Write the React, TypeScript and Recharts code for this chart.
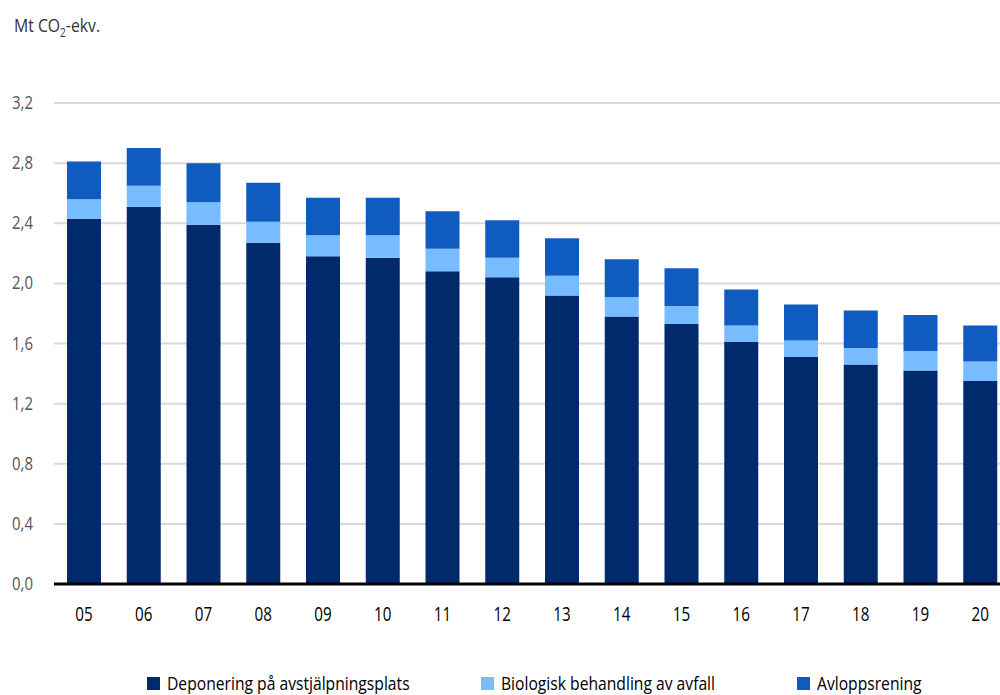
import React from "react";
import { BarChart, Bar, XAxis, YAxis, CartesianGrid, Legend } from "recharts";

const years = ["05", "06", "07", "08", "09", "10", "11", "12", "13", "14", "15", "16", "17", "18", "19", "20"];
const deponering = [2.43, 2.51, 2.39, 2.27, 2.18, 2.17, 2.08, 2.04, 1.92, 1.78, 1.73, 1.61, 1.51, 1.46, 1.42, 1.35];
const biologisk = [0.13, 0.14, 0.15, 0.14, 0.14, 0.15, 0.15, 0.13, 0.13, 0.13, 0.12, 0.11, 0.11, 0.11, 0.13, 0.13];
const avlopp = [0.25, 0.25, 0.26, 0.26, 0.25, 0.25, 0.25, 0.25, 0.25, 0.25, 0.25, 0.24, 0.24, 0.25, 0.24, 0.24];
const yTicks = [0, 0.4, 0.8, 1.2, 1.6, 2.0, 2.4, 2.8, 3.2];

const series = [
  { key: "dep", label: "Deponering på avstjälpningsplats", color: "#002a6c", left: 147 },
  { key: "bio", label: "Biologisk behandling av avfall", color: "#77bcff", left: 481 },
  { key: "avl", label: "Avloppsrening", color: "#105bbf", left: 797 },
];

const data = years.map((y, i) => ({
  year: y,
  dep: deponering[i],
  bio: biologisk[i],
  avl: avlopp[i],
}));

// no condensed font installed, so squeeze Open Sans horizontally
const FONT = "'Open Sans', sans-serif";
const SQUEEZE = 0.83;

if (typeof document !== "undefined") {
  document.body.style.margin = "0";
  document.body.style.overflow = "hidden";
}

const YTick = ({ y, payload }: any) => (
  <g transform={`translate(33,${y}) scale(${SQUEEZE},1)`}>
    <text x={0} y={0} dy={6} textAnchor="end" fill="#555" fontSize={18} fontFamily={FONT}>
      {payload.value.toFixed(1).replace(".", ",")}
    </text>
  </g>
);

const XTick = ({ x, y, payload }: any) => (
  <g transform={`translate(${x},${y}) scale(0.78,1)`}>
    <text x={0} y={0} dy={17} textAnchor="middle" fill="#000" fontSize={19.5} fontFamily={FONT}>
      {payload.value}
    </text>
  </g>
);

const LegendContent = () => (
  <div style={{ position: "relative", height: 24, fontFamily: FONT, fontSize: 18, color: "#000" }}>
    {series.map((s) => (
      <div
        key={s.key}
        style={{ position: "absolute", left: s.left, top: 0, height: 24, display: "flex", alignItems: "center" }}
      >
        <div style={{ width: 13, height: 13, background: s.color, marginRight: 7 }} />
        <span
          style={{
            display: "inline-block",
            whiteSpace: "nowrap",
            transform: "scaleX(0.87)",
            transformOrigin: "left center",
          }}
        >
          {s.label}
        </span>
      </div>
    ))}
  </div>
);

export default function App() {
  return (
    <div style={{ position: "relative", width: 1000, height: 695, overflow: "hidden", background: "#fff" }}>
      <div
        style={{
          position: "absolute",
          left: 14,
          top: 12,
          fontFamily: FONT,
          fontSize: 19,
          color: "#333",
          zIndex: 2,
          whiteSpace: "nowrap",
          transform: `scaleX(${SQUEEZE})`,
          transformOrigin: "left center",
        }}
      >
        Mt CO<sub style={{ fontSize: 12 }}>2</sub>-ekv.
      </div>
      <BarChart
        width={1010}
        height={695}
        data={data}
        margin={{ top: 103, right: 0, left: 0, bottom: 0 }}
        barSize={34}
      >
        <CartesianGrid vertical={false} stroke="#d9d9d9" strokeWidth={2} />
        <XAxis
          dataKey="year"
          height={87}
          tickLine={false}
          axisLine={{ stroke: "#000", strokeWidth: 3 }}
          tick={<XTick />}
          tickMargin={14}
        />
        <YAxis
          width={54}
          domain={[0, 3.2]}
          ticks={yTicks}
          axisLine={false}
          tickLine={false}
          tick={<YTick />}
        />
        <Legend verticalAlign="bottom" content={<LegendContent />} />
        {series.map((s) => (
          <Bar
            key={s.key}
            dataKey={s.key}
            name={s.label}
            stackId="a"
            fill={s.color}
            isAnimationActive={false}
          />
        ))}
      </BarChart>
    </div>
  );
}
